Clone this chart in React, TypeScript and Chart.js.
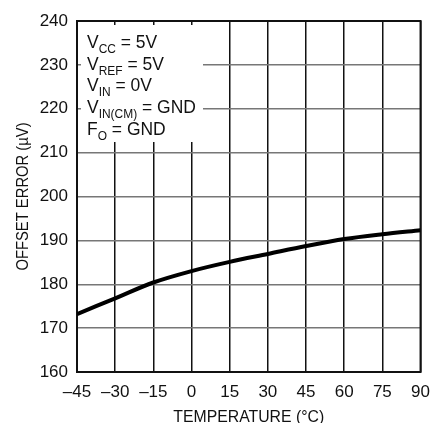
import React, { useEffect, useRef } from "react";
import { Chart, registerables } from "chart.js";

Chart.register(...registerables);

const temperatures = [-45, -30, -15, 0, 15, 30, 45, 60, 75, 90];
const offsetError = [173.2, 176.8, 180.4, 183.0, 185.1, 186.9, 188.7, 190.3, 191.4, 192.3];
const xMin = -45;
const xMax = 90;
const xStep = 15;
const yMin = 160;
const yMax = 240;
const yStep = 10;
const xTitle = "TEMPERATURE (°C)";
const yTitle = "OFFSET ERROR (µV)";
const conditionLines: [string, string, string][] = [
  ["V", "CC", " = 5V"],
  ["V", "REF", " = 5V"],
  ["V", "IN", " = 0V"],
  ["V", "IN(CM)", " = GND"],
  ["F", "O", " = GND"],
];

const FONT = "'Liberation Sans', Arial, sans-serif";

const overlayPlugin = {
  id: "overlay",
  beforeDatasetsDraw(chart: any) {
    const ctx = chart.ctx;
    const a = chart.chartArea;
    ctx.save();
    // white box behind conditions text
    ctx.fillStyle = "#ffffff";
    ctx.fillRect(a.left + 4, a.top + 4, 122, 117);
    // conditions text (condensed)
    ctx.fillStyle = "#111";
    ctx.textBaseline = "alphabetic";
    const sx = 0.92;
    conditionLines.forEach((ln, i) => {
      const y = a.top + 27 + i * 21.7;
      ctx.save();
      ctx.translate(a.left + 10, y);
      ctx.scale(sx, 1);
      let x = 0;
      ctx.font = `19px ${FONT}`;
      ctx.fillText(ln[0], x, 0);
      x += ctx.measureText(ln[0]).width;
      ctx.font = `13px ${FONT}`;
      ctx.fillText(ln[1], x, 5);
      x += ctx.measureText(ln[1]).width;
      ctx.font = `19px ${FONT}`;
      ctx.fillText(ln[2], x, 0);
      ctx.restore();
    });
    // border
    ctx.strokeStyle = "#111";
    ctx.lineWidth = 2;
    ctx.strokeRect(a.left, a.top, a.right - a.left, a.bottom - a.top);
    ctx.restore();
  },
  afterDraw(chart: any) {
    const ctx = chart.ctx;
    const a = chart.chartArea;
    ctx.save();
    ctx.fillStyle = "#111";
    ctx.font = `17px ${FONT}`;
    ctx.textAlign = "center";
    ctx.textBaseline = "alphabetic";
    ctx.save();
    ctx.translate((a.left + a.right) / 2, 422);
    ctx.scale(0.93, 1);
    ctx.fillText(xTitle, 0, 0);
    ctx.restore();
    ctx.translate(28, (a.top + a.bottom) / 2);
    ctx.rotate(-Math.PI / 2);
    ctx.scale(0.87, 1);
    ctx.fillText(yTitle, 0, 0);
    ctx.restore();
  },
};

export default function App() {
  const ref = useRef<HTMLCanvasElement>(null);
  useEffect(() => {
    document.body.style.margin = "0";
    const chart = new Chart(ref.current!, {
      type: "line",
      data: {
        datasets: [
          {
            data: temperatures.map((t, i) => ({ x: t, y: offsetError[i] })),
            borderColor: "#000",
            borderWidth: 4,
            pointRadius: 0,
            cubicInterpolationMode: "monotone",
          },
        ],
      },
      options: {
        animation: false,
        responsive: false,
        layout: { padding: { top: 21, right: 11, left: 0, bottom: 0 } },
        plugins: { legend: { display: false }, tooltip: { enabled: false } },
        scales: {
          x: {
            type: "linear",
            min: xMin,
            max: xMax,
            afterFit: (s: any) => {
              s.height = 51;
            },
            ticks: {
              stepSize: xStep,
              padding: 10,
              color: "#111",
              font: { family: FONT, size: 17 },
              callback: (v: any) => (Number(v) < 0 ? "\u2013" + Math.abs(Number(v)) : String(v)),
              maxRotation: 0,
            },
            grid: { color: "#111", lineWidth: 1.5, drawTicks: false },
            border: { display: false },
          },
          y: {
            type: "linear",
            min: yMin,
            max: yMax,
            afterFit: (s: any) => {
              s.width = 77;
            },
            ticks: {
              stepSize: yStep,
              padding: 9,
              color: "#111",
              font: { family: FONT, size: 17 },
            },
            grid: { color: "#777", lineWidth: 1.5, drawTicks: false },
            border: { display: false },
          },
        },
      },
      plugins: [overlayPlugin],
    } as any);
    return () => chart.destroy();
  }, []);
  return (
    <div style={{ width: 440, height: 423, background: "#fff" }}>
      <canvas ref={ref} width={440} height={423} style={{ display: "block" }} />
    </div>
  );
}
